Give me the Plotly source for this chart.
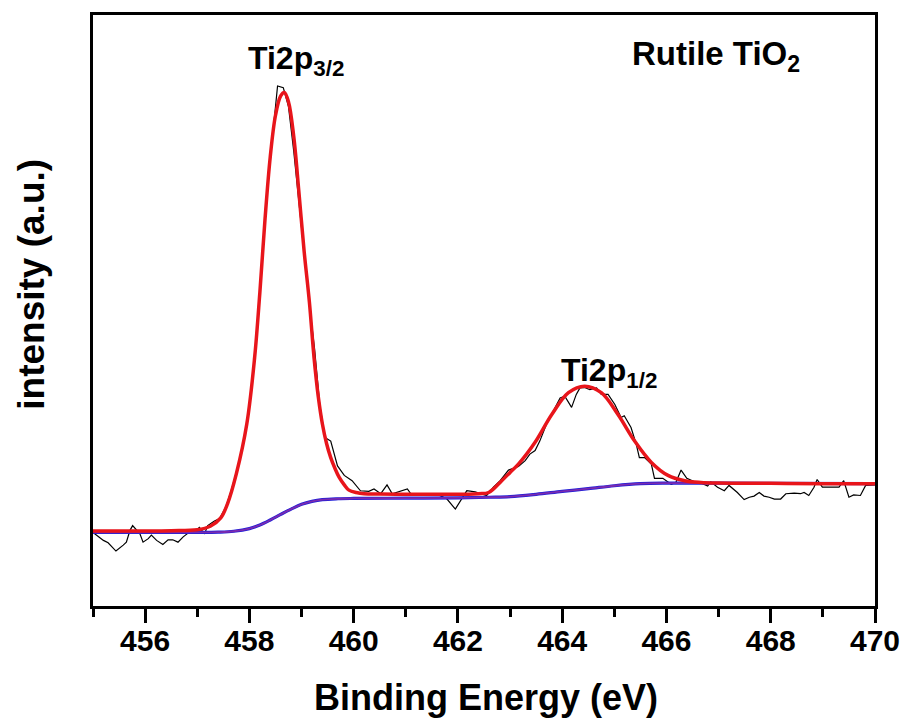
import plotly.graph_objects as go

# Measured Ti 2p spectrum (binding energy in eV, intensity in arbitrary units)
energy_raw = [
    455.02, 455.20, 455.29, 455.44, 455.58, 455.64, 455.71, 455.76, 455.90, 455.96,
    456.06, 456.12, 456.22, 456.34, 456.44, 456.53, 456.63, 456.73, 456.85, 456.98,
    457.04, 457.14, 457.20, 457.33, 457.43, 457.55, 457.65, 457.75, 457.85, 457.95,
    458.05, 458.15, 458.25, 458.35, 458.45, 458.54, 458.65, 458.75, 458.85, 458.95,
    459.05, 459.15, 459.25, 459.35, 459.45, 459.56, 459.69, 459.82, 459.97, 460.13,
    460.29, 460.39, 460.52, 460.64, 460.74, 460.90, 461.03, 461.12, 461.35, 461.63,
    461.79, 461.95, 462.08, 462.17, 462.33, 462.55, 462.68, 462.81, 462.97, 463.16,
    463.29, 463.38, 463.48, 463.57, 463.70, 463.83, 463.96, 464.05, 464.18, 464.27,
    464.34, 464.43, 464.53, 464.66, 464.75, 464.88, 465.01, 465.13, 465.19, 465.32,
    465.42, 465.48, 465.58, 465.71, 465.77, 465.93, 466.09, 466.18, 466.28, 466.39,
    466.54, 466.66, 466.79, 466.85, 466.98, 467.11, 467.20, 467.36, 467.49, 467.59,
    467.68, 467.78, 467.87, 467.97, 468.07, 468.19, 468.29, 468.45, 468.57, 468.64,
    468.73, 468.83, 468.89, 468.99, 469.12, 469.31, 469.40, 469.50, 469.59, 469.72,
    469.82, 469.91, 470.00,
]
intensity_raw = [
    12.3, 11.1, 10.7, 9.3, 10.3, 10.8, 12.8, 13.6, 12.2, 10.8,
    11.4, 12.0, 11.1, 10.4, 11.2, 11.2, 10.8, 11.7, 12.5, 12.8,
    13.3, 12.2, 13.6, 14.4, 14.8, 16.8, 19.5, 22.6, 26.3, 31.0,
    37.5, 46.5, 59.5, 71.0, 80.0, 88.0, 87.7, 84.5, 77.0, 68.5,
    59.0, 51.0, 43.5, 34.0, 28.5, 27.9, 23.7, 22.1, 21.2, 19.5,
    19.4, 19.8, 19.0, 20.5, 19.0, 19.5, 19.8, 18.7, 18.9, 18.8,
    18.1, 16.4, 18.1, 19.5, 19.3, 18.7, 20.1, 21.2, 23.0, 23.6,
    24.6, 25.7, 26.3, 27.9, 30.8, 33.0, 35.2, 35.5, 33.6, 35.8,
    36.9, 37.0, 36.6, 36.9, 35.8, 35.8, 34.1, 31.9, 32.2, 30.2,
    27.4, 25.1, 25.1, 24.0, 21.6, 21.6, 20.6, 20.9, 23.0, 21.6,
    21.0, 20.8, 20.3, 21.0, 20.1, 19.5, 20.4, 19.2, 18.0, 18.4,
    18.6, 19.2, 18.6, 18.4, 18.1, 18.1, 19.0, 19.1, 19.0, 19.2,
    18.7, 20.1, 21.4, 20.1, 20.1, 20.1, 21.2, 18.4, 18.8, 18.7,
    20.4, 20.5, 20.5,
]

# Fitted envelope (sum of Ti2p3/2 and Ti2p1/2 components plus background)
energy_fit = [
    455.00, 456.00, 456.50, 457.00, 457.25, 457.45, 457.58, 457.75, 457.95, 458.10,
    458.20, 458.30, 458.40, 458.50, 458.60, 458.67, 458.75, 458.85, 458.95, 459.05,
    459.15, 459.24, 459.32, 459.40, 459.48, 459.56, 459.64, 459.72, 459.82, 459.91,
    460.05, 460.20, 460.50, 461.00, 461.50, 462.00, 462.20, 462.40, 462.59, 462.84,
    463.00, 463.16, 463.48, 463.80, 464.12, 464.43, 464.75, 465.07, 465.39, 465.71,
    466.03, 466.35, 466.66, 467.00, 468.00, 469.00, 470.00,
]
intensity_fit = [
    12.7, 12.7, 12.75, 12.9, 13.5, 14.9, 17.3, 22.4, 30.8, 42.0,
    53.0, 65.5, 76.0, 83.0, 86.3, 86.9, 85.3, 79.5, 70.0, 60.0,
    51.5, 42.0, 35.5, 30.8, 27.5, 25.1, 23.3, 21.8, 20.5, 19.6,
    19.2, 19.0, 18.95, 18.9, 18.9, 18.9, 18.9, 19.0, 19.2, 21.2,
    22.6, 24.0, 27.7, 32.4, 36.1, 37.2, 36.1, 32.4, 27.9, 24.3,
    22.1, 21.2, 20.9, 20.8, 20.75, 20.7, 20.7,
]

# Shirley-type background
energy_bg = [
    455.0, 457.0, 457.4, 457.7, 458.0, 458.2, 458.4, 458.6, 458.8, 459.0,
    459.2, 459.4, 459.7, 460.0, 461.0, 462.0, 462.6, 463.0, 463.5, 464.0,
    464.5, 465.0, 465.5, 466.0, 467.0, 470.0,
]
intensity_bg = [
    12.45, 12.45, 12.5, 12.65, 13.1, 13.7, 14.55, 15.5, 16.4, 17.2,
    17.7, 18.0, 18.15, 18.2, 18.25, 18.3, 18.4, 18.5, 18.9, 19.4,
    19.85, 20.35, 20.7, 20.8, 20.8, 20.7,
]

x_ticks = [456, 458, 460, 462, 464, 466, 468, 470]

FONT = "Arial, 'Liberation Sans', sans-serif"

fig = go.Figure()

fig.add_trace(go.Scatter(
    x=energy_raw, y=intensity_raw, mode="lines",
    line=dict(color="black", width=1.2), name="raw",
))
fig.add_trace(go.Scatter(
    x=energy_bg, y=intensity_bg, mode="lines",
    line=dict(color="#1E1ED8", width=3.2, shape="spline"), name="background",
))
fig.add_trace(go.Scatter(
    x=energy_bg, y=intensity_bg, mode="lines",
    line=dict(color="#7A2AB0", width=1.8, shape="spline"), name="background fit",
))
fig.add_trace(go.Scatter(
    x=energy_fit, y=intensity_fit, mode="lines",
    line=dict(color="#E8151B", width=3.5, shape="spline"), name="envelope",
))
# invisible companion trace on the label-only axis so it is laid out
fig.add_trace(go.Scatter(
    x=energy_raw, y=intensity_raw, mode="lines", xaxis="x2",
    line=dict(color="rgba(0,0,0,0)", width=0), hoverinfo="skip", name="labels",
))

annot_font = dict(family=FONT, size=32, color="black")
fig.add_annotation(
    x=458.9, y=92.3, xref="x", yref="y", showarrow=False,
    text="<b>Ti2p<sub>3/2</sub></b>", font=annot_font,
)
fig.add_annotation(
    x=464.9, y=39.5, xref="x", yref="y", showarrow=False,
    text="<b>Ti2p<sub>1/2</sub></b>", font=annot_font,
)
fig.add_annotation(
    x=466.95, y=93.0, xref="x", yref="y", showarrow=False,
    text="<b>Rutile TiO<sub>2</sub></b>", font=dict(family=FONT, size=33, color="black"),
)
fig.add_annotation(
    x=-0.079, y=0.544, xref="paper", yref="paper", showarrow=False,
    xanchor="center", yanchor="middle",
    text="<b>intensity (a.u.)</b>", textangle=-90,
    font=dict(family=FONT, size=37, color="black"),
)
fig.add_annotation(
    x=0.503, y=-0.155, xref="paper", yref="paper", showarrow=False,
    xanchor="center", yanchor="middle",
    text="<b>Binding Energy (eV)</b>",
    font=dict(family=FONT, size=36, color="black"),
)

fig.update_layout(
    width=912, height=720,
    margin=dict(l=93, r=34, t=12, b=114),
    paper_bgcolor="white", plot_bgcolor="white",
    showlegend=False,
    font=dict(family=FONT, color="black"),
    xaxis=dict(
        range=[455, 470], tickvals=x_ticks, showticklabels=False,
        ticks="outside", ticklen=14, tickwidth=2.5, tickcolor="black",
        minor=dict(dtick=1, tick0=455, ticks="outside", ticklen=8,
                   tickwidth=2.5, tickcolor="black"),
        showline=True, linewidth=2.5, linecolor="black", mirror=True,
        showgrid=False, zeroline=False,
    ),
    # label-only axis sharing the same scale, for tick label placement
    xaxis2=dict(
        overlaying="x", anchor="y", side="bottom", matches="x",
        tickvals=x_ticks, ticktext=[f"<b>{v}</b>" for v in x_ticks],
        ticks="", showline=False, showgrid=False, zeroline=False,
        tickfont=dict(family=FONT, size=30, color="black"),
        ticklabelstandoff=14,
    ),
    yaxis=dict(
        range=[0, 100], showticklabels=False, ticks="",
        showline=True, linewidth=2.5, linecolor="black", mirror=True,
        showgrid=False, zeroline=False,
    ),
)

fig.write_html("out.html")
